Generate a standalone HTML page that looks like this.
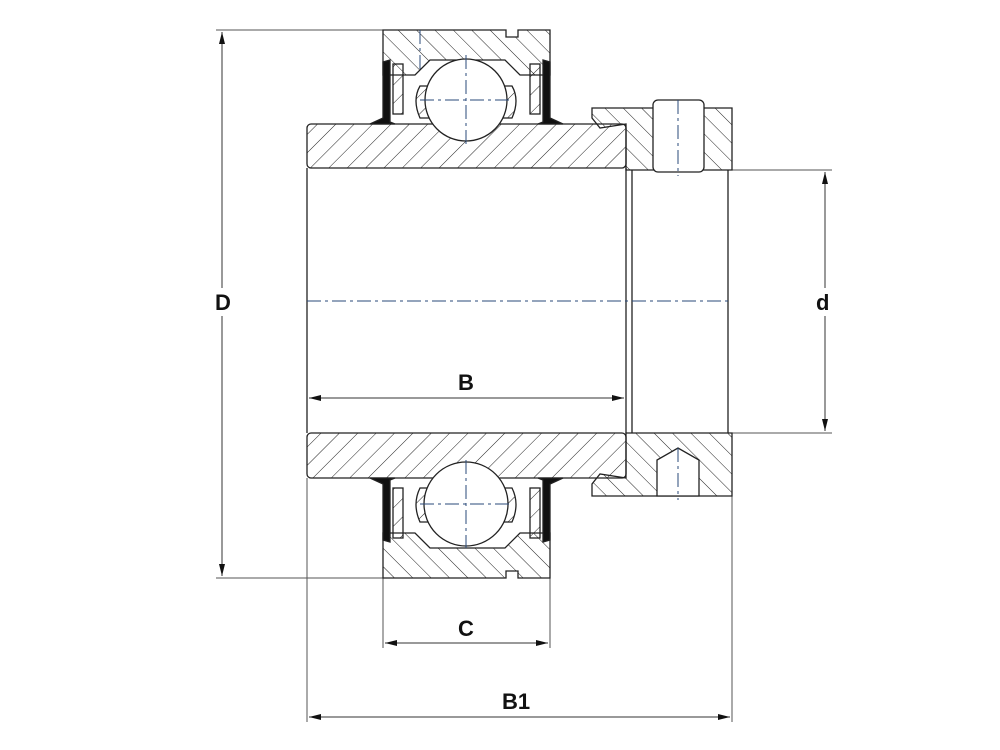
<!DOCTYPE html>
<html><head><meta charset="utf-8"><style>
html,body{margin:0;padding:0;background:#fff;width:1000px;height:750px;overflow:hidden}
text{font-family:"Liberation Sans",sans-serif;font-weight:bold;font-size:22px;fill:#111}
</style></head><body>
<svg width="1000" height="750" viewBox="0 0 1000 750" xmlns="http://www.w3.org/2000/svg">
<defs>
<pattern id="h1" patternUnits="userSpaceOnUse" width="13" height="13" patternTransform="rotate(45)">
<line x1="0" y1="0" x2="0" y2="13" stroke="#222" stroke-width="1"/></pattern>
<pattern id="h2" patternUnits="userSpaceOnUse" width="13" height="13" patternTransform="rotate(-45)">
<line x1="0" y1="0" x2="0" y2="13" stroke="#222" stroke-width="1"/></pattern>
<marker id="ar" markerWidth="12" markerHeight="6" refX="12" refY="3" orient="auto" markerUnits="userSpaceOnUse">
<path d="M0,0 L12,3 L0,6 z" fill="#111"/></marker>
</defs>
<g stroke="#555" stroke-width="1" fill="none">
<line x1="216" y1="30" x2="383" y2="30"/>
<line x1="216" y1="578" x2="383" y2="578"/>
<line x1="307" y1="478" x2="307" y2="722"/>
<line x1="383" y1="578" x2="383" y2="648"/>
<line x1="550" y1="578" x2="550" y2="648"/>
<line x1="732" y1="496" x2="732" y2="722"/>
<line x1="732" y1="170" x2="832" y2="170"/>
<line x1="732" y1="433" x2="832" y2="433"/>
</g>
<g stroke="#333" stroke-width="1" fill="none">
<line x1="222" y1="302" x2="222" y2="32" marker-end="url(#ar)"/>
<line x1="222" y1="302" x2="222" y2="576" marker-end="url(#ar)"/>
<line x1="825" y1="300" x2="825" y2="172" marker-end="url(#ar)"/>
<line x1="825" y1="300" x2="825" y2="431" marker-end="url(#ar)"/>
<line x1="466" y1="398" x2="309" y2="398" marker-end="url(#ar)"/>
<line x1="466" y1="398" x2="624" y2="398" marker-end="url(#ar)"/>
<line x1="466" y1="643" x2="385" y2="643" marker-end="url(#ar)"/>
<line x1="466" y1="643" x2="548" y2="643" marker-end="url(#ar)"/>
<line x1="520" y1="717" x2="309" y2="717" marker-end="url(#ar)"/>
<line x1="520" y1="717" x2="730" y2="717" marker-end="url(#ar)"/>
</g>
<rect x="205" y="288" width="34" height="28" fill="#fff"/>
<rect x="810" y="288" width="30" height="28" fill="#fff"/>
<text x="215" y="310">D</text>
<text x="816" y="310">d</text>
<text x="458" y="390">B</text>
<text x="458" y="636">C</text>
<text x="502" y="709">B1</text>
<g stroke="#222" stroke-width="1.3">
<line x1="307" y1="168" x2="307" y2="433"/>
<line x1="626" y1="168" x2="626" y2="433"/>
<line x1="632" y1="170" x2="632" y2="433"/>
<line x1="728" y1="170" x2="728" y2="433"/>
<rect x="307" y="124" width="319" height="44" rx="4" fill="url(#h1)"/>
<rect x="307" y="433" width="319" height="45" rx="4" fill="url(#h1)"/>
<path d="M383,30 H506 V37 H518 V30 H550 V75 H520 L505,60 H430 L415,75 H383 Z" fill="url(#h2)"/>
<path d="M383,578 H506 V571 H518 V578 H550 V533 H520 L505,548 H430 L415,533 H383 Z" fill="url(#h2)"/>
<path d="M592,108 H732 V170 H626 V124 L600,128 L592,118 Z" fill="url(#h2)"/>
<path d="M592,496 H732 V433 H626 V478 L600,474 L592,484 Z" fill="url(#h2)"/>
<rect x="653" y="100" width="51" height="72" rx="5" fill="#fff"/>
<path d="M657,496 V460 L678,448 L699,460 V496 Z" fill="#fff"/>
<path d="M370,124 L383,118 V62 L390,60 V122 L395,124 Z" fill="#111"/>
<path d="M563,124 L550,118 V62 L543,60 V122 L538,124 Z" fill="#111"/>
<path d="M370,478 L383,484 V540 L390,542 V480 L395,478 Z" fill="#111"/>
<path d="M563,478 L550,484 V540 L543,542 V480 L538,478 Z" fill="#111"/>
<rect x="393" y="64" width="10" height="50" fill="url(#h1)"/>
<rect x="530" y="64" width="10" height="50" fill="url(#h1)"/>
<rect x="393" y="488" width="10" height="50" fill="url(#h1)"/>
<rect x="530" y="488" width="10" height="50" fill="url(#h1)"/>
<path d="M420,86 Q412,100 420,118 L430,118 L430,86 Z" fill="url(#h1)"/>
<path d="M512,86 Q520,100 512,118 L502,118 L502,86 Z" fill="url(#h1)"/>
<path d="M420,488 Q412,504 420,522 L430,522 L430,488 Z" fill="url(#h1)"/>
<path d="M512,488 Q520,504 512,522 L502,522 L502,488 Z" fill="url(#h1)"/>
<circle cx="466" cy="100" r="41" fill="#fff"/>
<circle cx="466" cy="504" r="42" fill="#fff"/>
</g>
<g stroke="#2a4a7a" stroke-width="1" stroke-dasharray="14,4,3,4" fill="none">
<line x1="307" y1="301" x2="728" y2="301"/>
<line x1="420" y1="100" x2="512" y2="100"/>
<line x1="466" y1="55" x2="466" y2="145"/>
<line x1="420" y1="504" x2="512" y2="504"/>
<line x1="466" y1="460" x2="466" y2="548"/>
<line x1="678" y1="100" x2="678" y2="176"/>
<line x1="678" y1="448" x2="678" y2="500"/>
<line x1="420" y1="30" x2="420" y2="70"/>
</g>
</svg>
</body></html>
